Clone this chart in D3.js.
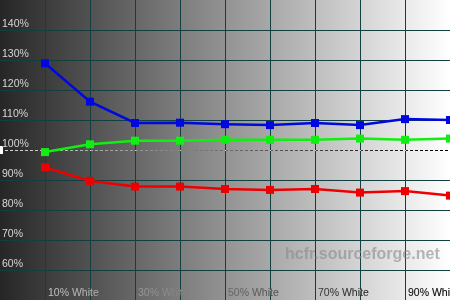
<!DOCTYPE html>
<meta charset="utf-8">
<style>
    body { margin: 0; }
    svg { display: block; }
    .lbl { font-family: "Liberation Sans", Arial, sans-serif; font-size: 10.5px; fill: #fff; mix-blend-mode: difference; }
</style>
<svg width="450" height="300"></svg>
<script src="https://d3js.org/d3.v7.min.js"></script>
<script>

    var levels = [10, 20, 30, 40, 50, 60, 70, 80, 90, 100];
    var xLabels = ["10% White", "30% White", "50% White", "70% White", "90% White"];
    var yTicks = [60, 70, 80, 90, 100, 110, 120, 130, 140];

    var red = [94.2, 89.7, 87.8, 87.8, 87.0, 86.7, 87.0, 85.8, 86.3, 84.8];
    var green = [99.3, 101.9, 103.1, 103.1, 103.4, 103.4, 103.4, 103.8, 103.4, 103.8];
    var blue = [128.9, 116.1, 109.0, 109.1, 108.6, 108.3, 109.0, 108.3, 110.3, 110.0];

    var svg = d3.select("svg"),
        width = +svg.attr("width"),
        height = +svg.attr("height");

    var x = d3.scaleLinear().domain([0, 100]).range([0, width]);
    var y = d3.scaleLinear().domain([50, 150]).range([height, 0]);

    // background gradient dark -> white
    var grad = svg.append("defs").append("linearGradient")
        .attr("id", "bg")
        .attr("x1", "0").attr("x2", "1").attr("y1", "0").attr("y2", "0");
    grad.append("stop").attr("offset", "0").attr("stop-color", "#262626");
    grad.append("stop").attr("offset", "1").attr("stop-color", "#ffffff");

    svg.append("rect")
        .attr("width", width)
        .attr("height", height)
        .attr("fill", "url(#bg)");

    // grid
    var grid = svg.append("g").attr("stroke", "#123f3f").attr("stroke-width", 1);

    grid.selectAll("line.v")
        .data(levels.slice(0, 9))
        .enter().append("line")
        .attr("class", "v")
        .attr("x1", function (d) { return Math.round(x(d)) + 0.5; })
        .attr("x2", function (d) { return Math.round(x(d)) + 0.5; })
        .attr("y1", 0).attr("y2", height);

    grid.selectAll("line.h")
        .data(yTicks.filter(function (d) { return d != 100; }))
        .enter().append("line")
        .attr("class", "h")
        .attr("y1", function (d) { return Math.round(y(d)) + 0.5; })
        .attr("y2", function (d) { return Math.round(y(d)) + 0.5; })
        .attr("x1", 0).attr("x2", width);

    // 100% reference line
    svg.append("line")
        .attr("x1", 0).attr("x2", width)
        .attr("y1", y(100) + 0.5).attr("y2", y(100) + 0.5)
        .attr("stroke", "#fff")
        .attr("stroke-dasharray", "3,2")
        .style("mix-blend-mode", "difference");

    svg.append("rect")
        .attr("x", 0).attr("y", y(100) - 4)
        .attr("width", 3).attr("height", 8)
        .attr("fill", "#fff");

    // y labels
    svg.selectAll("text.y")
        .data(yTicks)
        .enter().append("text")
        .attr("class", "lbl")
        .attr("x", 2)
        .attr("y", function (d) { return y(d) - 3.5; })
        .text(function (d) { return d + "%"; });

    // x labels
    svg.selectAll("text.x")
        .data(xLabels)
        .enter().append("text")
        .attr("class", "lbl")
        .attr("x", function (d, i) { return x(levels[i * 2]) + 3; })
        .attr("y", 296)
        .text(function (d) { return d; });

    // watermark
    svg.append("text")
        .attr("x", 285)
        .attr("y", 259)
        .attr("font-family", "Liberation Sans, Arial, sans-serif")
        .attr("font-weight", "bold")
        .attr("font-size", 16)
        .attr("fill", "#888")
        .attr("fill-opacity", 0.6)
        .text("hcfr.sourceforge.net");

    var series = [
        { name: "red", values: red, color: "#ee0000" },
        { name: "green", values: green, color: "#11ee11" },
        { name: "blue", values: blue, color: "#0008e0" }
    ];

    var line = d3.line()
        .x(function (d, i) { return x(levels[i]); })
        .y(function (d) { return y(d); });

    series.forEach(function (s) {
        svg.append("path")
            .datum(s.values)
            .attr("fill", "none")
            .attr("stroke", s.color)
            .attr("stroke-width", 2.5)
            .attr("d", line);

        svg.append("g").selectAll("rect")
            .data(s.values)
            .enter().append("rect")
            .attr("x", function (d, i) { return x(levels[i]) - 4; })
            .attr("y", function (d) { return y(d) - 4; })
            .attr("width", 8)
            .attr("height", 8)
            .attr("fill", s.color);
    });

</script>
